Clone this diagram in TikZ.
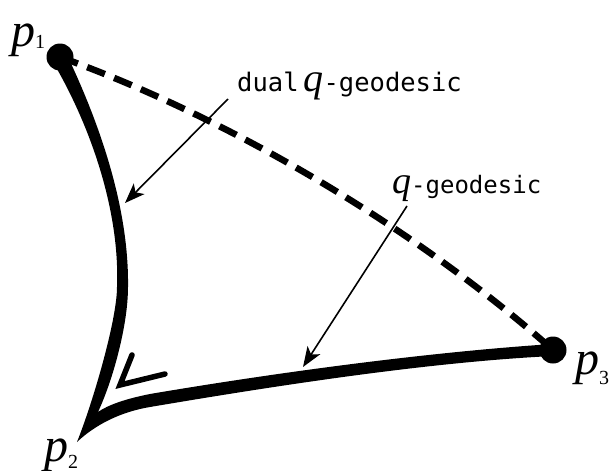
\documentclass[tikz,border=0pt]{standalone}
\usepackage{fontspec}
\newfontfamily\monofont{DejaVu Sans Mono}
\newfontfamily\timesfont{Liberation Serif}
\usetikzlibrary{arrows.meta}
\begin{document}
\begin{tikzpicture}[x=1pt,y=-1pt,
  dot/.style={circle,fill=black,inner sep=0pt,minimum size=27pt},
  pointer/.style={draw=black,line width=1.6pt,-{Stealth[length=20pt,width=15pt,inset=5pt]}},
  gtext/.style={inner sep=0pt,anchor=base west,font=\fontsize{25.5}{25.5}\selectfont\monofont},
  gtextb/.style={inner sep=0pt,anchor=base west,font=\fontsize{24}{24}\selectfont\monofont},
  plab/.style={inner sep=0pt,anchor=base west,font=\fontsize{48}{48}\selectfont\timesfont\itshape},
  dashedgeo/.style={line width=6.5pt,dash pattern=on 19pt off 10pt},
  anglemark/.style={line width=5.5pt,line cap=round,line join=miter}
]
\useasboundingbox (0,0) rectangle (611,471);
% dashed q-geodesic
\draw[dashedgeo] (60,57) .. controls (235,120) and (420,232) .. (553,350);
% solid dual geodesic and q-geodesic, meeting in a cusp at p2
\fill (53,62) .. controls (90,125) and (120,210) .. (117,287)
  .. controls (117,320) and (93,402) .. (77,442)
  .. controls (95,425) and (120,412) .. (150,407)
  .. controls (280,385) and (430,362) .. (553,356)
  -- (553,344)
  .. controls (430,352) and (280,372) .. (150,394)
  .. controls (125,399) and (108,405) .. (98,412)
  .. controls (113,380) and (128,325) .. (128,287)
  .. controls (129,215) and (105,135) .. (67,55)
  -- cycle;
% angle mark
\draw[anglemark] (132,355) -- (120,385) -- (165,374);
% end points
\node[dot] (p1) at (60,57) {};
\node[dot] (p3) at (553,350) {};
\coordinate (p2) at (77,442);
% point labels
\node[plab] (l1) at (11,46) {p\raisebox{-2pt}{\fontsize{20}{20}\selectfont\upshape 1}};
\node[plab] (l2) at (44,461) {p\raisebox{-7pt}{\fontsize{20}{20}\selectfont\upshape 2}};
\node[plab] (l3) at (575,374) {p\raisebox{-10pt}{\fontsize{20}{20}\selectfont\upshape 3}};
% texts
\node[gtext] (t1) at (237,91) {dual\hspace{5pt}{\fontsize{40}{40}\selectfont\timesfont\itshape q}-geodesic};
\node[gtextb] (t2) at (392,193) {{\fontsize{38}{38}\selectfont\timesfont\itshape q}-geodesic};
% pointers
\coordinate (a1s) at (228,99);
\coordinate (a1e) at (125,203);
\coordinate (a2s) at (407,206);
\coordinate (a2e) at (303,367);
\draw[pointer] (a1s) -- (a1e);
\draw[pointer] (a2s) -- (a2e);
\end{tikzpicture}
\end{document}
